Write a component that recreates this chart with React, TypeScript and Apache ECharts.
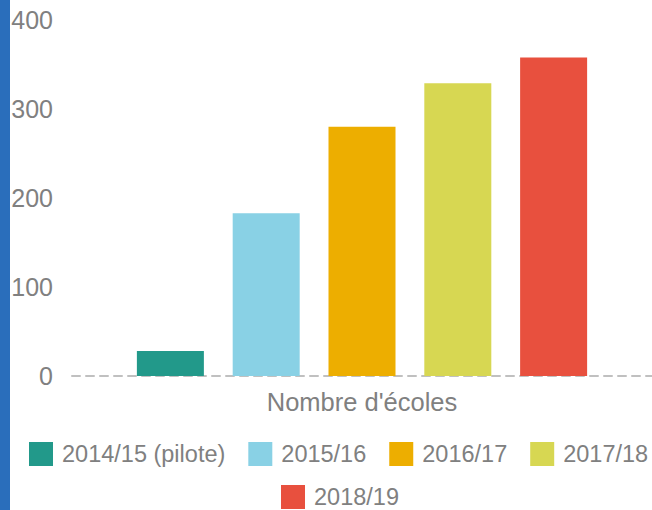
import React, { useEffect, useRef } from "react";
import * as echarts from "echarts";

const categories = ["Nombre d'écoles"];
const seriesNames = ["2014/15 (pilote)", "2015/16", "2016/17", "2017/18", "2018/19"];
const seriesValues = [28, 183, 280, 329, 358];
const seriesColors = ["#22998a", "#89d1e5", "#edae00", "#d7d752", "#e8503e"];
const yTicks = { min: 0, max: 400, interval: 100 };

export default function App() {
  const ref = useRef<HTMLDivElement>(null);
  useEffect(() => {
    document.body.style.margin = "0";
    const chart = echarts.init(ref.current!, undefined, { renderer: "svg" });
    const font = "Arial, 'Liberation Sans', sans-serif";
    const legendBase = {
      itemWidth: 24,
      itemHeight: 24,
      itemGap: 23,
      padding: 0,
      icon: "rect",
      textStyle: { fontSize: 23.5, color: "#808080", fontFamily: font, padding: [0, 0, 0, 4] },
    };
    chart.setOption({
      animation: false,
      textStyle: { fontFamily: font },
      graphic: [
        { type: "rect", left: 0, top: 0, shape: { width: 10, height: 510 }, style: { fill: "#2a6ebb" } },
      ],
      grid: { left: 72, right: 0, top: 20, bottom: 134 },
      legend: [
        { ...legendBase, top: 442, left: 29, width: 623, data: seriesNames.slice(0, 4) },
        { ...legendBase, top: 485, left: 281, width: 300, data: seriesNames.slice(4) },
      ],
      xAxis: {
        type: "category",
        data: categories,
        axisLine: { lineStyle: { color: "#c0c0c0", width: 2, type: [8, 6] } },
        axisTick: { show: false },
        axisLabel: { fontSize: 25.5, color: "#808080", margin: 13, fontFamily: font },
      },
      yAxis: {
        type: "value",
        min: yTicks.min,
        max: yTicks.max,
        interval: yTicks.interval,
        axisLine: { show: false },
        axisTick: { show: false },
        splitLine: { show: false },
        axisLabel: { fontSize: 25, color: "#808080", margin: 19, fontFamily: font },
      },
      series: seriesNames.map((name, i) => ({
        name,
        type: "bar",
        data: [seriesValues[i]],
        barWidth: 67,
        barGap: "43%",
        itemStyle: { color: seriesColors[i] },
      })),
    });
    return () => chart.dispose();
  }, []);
  return <div ref={ref} style={{ width: 652, height: 510 }} />;
}
